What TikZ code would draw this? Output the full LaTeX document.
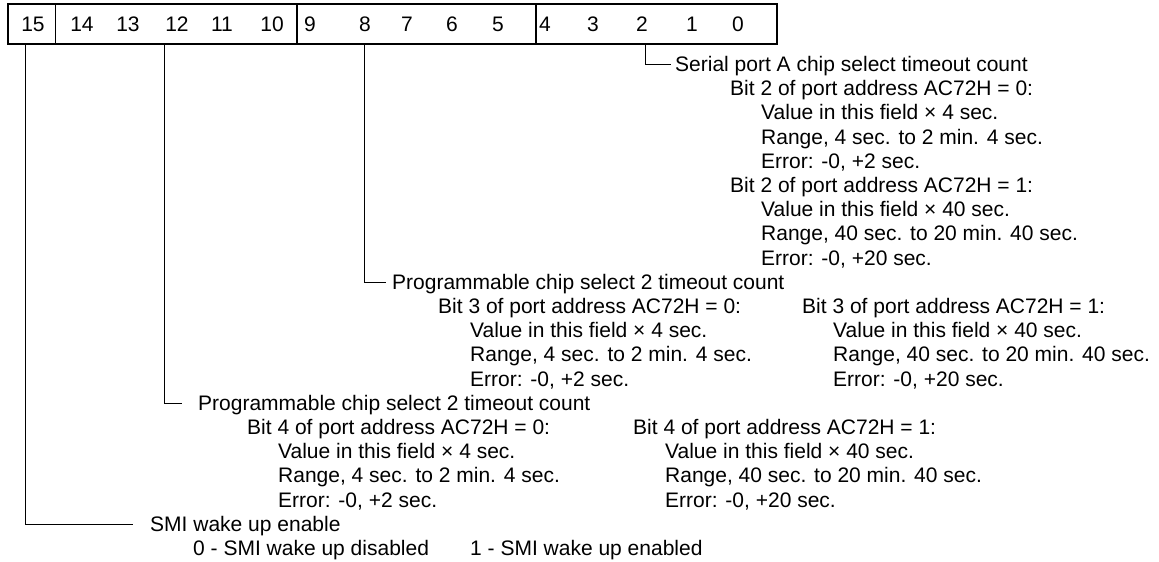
\documentclass[tikz,border=0pt]{standalone}
\usepackage{fontspec}
\setmainfont{Liberation Sans}
\usetikzlibrary{positioning}

\tikzset{
  txt/.style={anchor=base west,inner sep=0pt,font=\fontsize{21}{24}\selectfont},
  bitno/.style={anchor=base,inner sep=0pt,font=\fontsize{21}{24}\selectfont},
  lead/.style={line width=1pt},
}

\begin{document}
\begin{tikzpicture}[x=1pt,y=-1pt]
\useasboundingbox (0,0) rectangle (1159,562);
% register bar
\draw[line width=1.1pt] (8,4) rectangle (777,44);
\foreach \x in {55.5,297,536} \draw[line width=1.1pt] (\x,4) -- (\x,44);
\foreach \b/\x in {15/33,14/82,13/128,12/177,11/222,10/272,9/310,8/365,7/407,6/452,5/498,4/545,3/593,2/642,1/692,0/738}
  \node[bitno] (b\b) at (\x,31.5) {\b};
\coordinate (t15) at (25,44);
\coordinate (t12) at (164,44);
\coordinate (t8) at (364,44);
\coordinate (t2) at (645,44);

% bits 4-0
\node[txt] (serial) at (675,71.5) {Serial port A chip select timeout count};
\node[txt] (s2lo) at (730,95.7) {Bit 2 of port address AC72H = 0:};
\node[txt] (s2lo1) at (761,119.9) {Value in this field × 4 sec.};
\node[txt] (s2lo2) at (761,144.1) {Range, 4 sec. to 2 min. 4 sec.};
\node[txt] (s2lo3) at (761,168.3) {Error: -0, +2 sec.};
\node[txt] (s2hi) at (730,192.5) {Bit 2 of port address AC72H = 1:};
\node[txt] (s2hi1) at (761,216.7) {Value in this field × 40 sec.};
\node[txt] (s2hi2) at (761,240.9) {Range, 40 sec. to 20 min. 40 sec.};
\node[txt] (s2hi3) at (761,265.1) {Error: -0, +20 sec.};

% bits 9-5
\node[txt] (pcs8) at (392,289.3) {Programmable chip select 2 timeout count};
\node[txt] (s3lo) at (438,313.5) {Bit 3 of port address AC72H = 0:};
\node[txt] (s3lo1) at (470,337.7) {Value in this field × 4 sec.};
\node[txt] (s3lo2) at (470,361.9) {Range, 4 sec. to 2 min. 4 sec.};
\node[txt] (s3lo3) at (470,386.1) {Error: -0, +2 sec.};
\node[txt] (s3hi) at (802,313.5) {Bit 3 of port address AC72H = 1:};
\node[txt] (s3hi1) at (833,337.7) {Value in this field × 40 sec.};
\node[txt] (s3hi2) at (833,361.9) {Range, 40 sec. to 20 min. 40 sec.};
\node[txt] (s3hi3) at (833,386.1) {Error: -0, +20 sec.};

% bits 14-10
\node[txt] (pcs12) at (198,410.3) {Programmable chip select 2 timeout count};
\node[txt] (s4lo) at (247,434.5) {Bit 4 of port address AC72H = 0:};
\node[txt] (s4lo1) at (278,458.7) {Value in this field × 4 sec.};
\node[txt] (s4lo2) at (278,482.9) {Range, 4 sec. to 2 min. 4 sec.};
\node[txt] (s4lo3) at (278,507.1) {Error: -0, +2 sec.};
\node[txt] (s4hi) at (633,434.5) {Bit 4 of port address AC72H = 1:};
\node[txt] (s4hi1) at (665,458.7) {Value in this field × 40 sec.};
\node[txt] (s4hi2) at (665,482.9) {Range, 40 sec. to 20 min. 40 sec.};
\node[txt] (s4hi3) at (665,507.1) {Error: -0, +20 sec.};

% bit 15
\node[txt] (smi) at (150,531.3) {SMI wake up enable};
\node[txt] (smi0) at (193,555.5) {0 - SMI wake up disabled};
\node[txt] (smi1) at (470,555.5) {1 - SMI wake up enabled};

\draw[lead] (t2) |- ([xshift=-4pt,yshift=7pt]serial.base west);
\draw[lead] (t8) |- ([xshift=-6pt,yshift=7pt]pcs8.base west);
\draw[lead] (t12) |- ([xshift=-16pt,yshift=7pt]pcs12.base west);
\draw[lead] (t15) |- ([xshift=-17pt,yshift=7pt]smi.base west);
\end{tikzpicture}
\end{document}
